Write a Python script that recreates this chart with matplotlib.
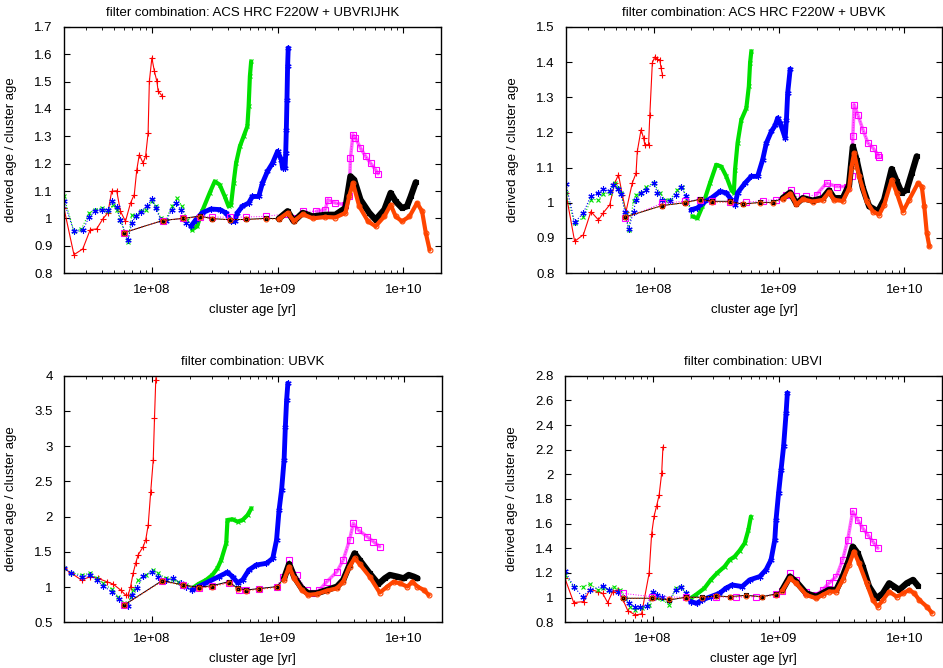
import numpy as np
import matplotlib
matplotlib.use("Agg")
import matplotlib.pyplot as plt
from matplotlib.ticker import LogLocator, NullFormatter, FixedLocator, FuncFormatter

plt.rcParams['font.family'] = ['Liberation Sans', 'DejaVu Sans']
plt.rcParams['font.size'] = 9.5

# ---- data: log10(cluster age) and derived/true age ratio ----
# panel 1: ACS HRC F220W + UBVRIJHK
p1_red_age = [7.30, 7.38, 7.45, 7.51, 7.56, 7.61, 7.65, 7.68, 7.72, 7.75, 7.79, 7.83, 7.86, 7.88, 7.90, 7.93, 7.95, 7.97, 7.98, 8.0, 8.02, 8.04, 8.05, 8.08]
p1_red = [1.038, 0.867, 0.888, 0.959, 0.961, 0.998, 1.02, 1.099, 1.101, 1.026, 0.989, 1.056, 1.087, 1.178, 1.233, 1.202, 1.227, 1.312, 1.501, 1.587, 1.538, 1.501, 1.465, 1.449]
p1_green_age = [7.30, 7.38, 7.44, 7.50, 7.55, 7.60, 7.65, 7.69, 7.72, 7.75, 7.81, 7.84, 7.87, 7.91, 7.95, 8.0, 8.03, 8.07, 8.11, 8.16, 8.20, 8.24, 8.28, 8.32, 8.36, 8.40, 8.46, 8.50, 8.54, 8.58, 8.61, 8.63, 8.65, 8.67, 8.70, 8.73, 8.76, 8.77, 8.78, 8.79]
p1_green = [1.08, 0.952, 0.961, 1.02, 1.032, 1.038, 1.026, 1.05, 1.032, 0.995, 0.912, 1.013, 1.007, 1.026, 1.032, 1.062, 1.044, 1.001, 0.995, 1.044, 1.074, 1.044, 0.995, 0.959, 0.971, 1.026, 1.093, 1.135, 1.123, 1.08, 1.044, 1.05, 1.129, 1.202, 1.263, 1.3, 1.337, 1.41, 1.52, 1.574]
p1_blue_age = [7.30, 7.38, 7.45, 7.50, 7.55, 7.60, 7.65, 7.68, 7.72, 7.75, 7.81, 7.84, 7.87, 7.91, 7.96, 8.0, 8.03, 8.07, 8.11, 8.16, 8.19, 8.23, 8.27, 8.31, 8.35, 8.40, 8.47, 8.54, 8.59, 8.63, 8.66, 8.68, 8.72, 8.77, 8.80, 8.85, 8.88, 8.92, 8.96, 9.00, 9.03, 9.04, 9.06, 9.065, 9.07, 9.075, 9.08, 9.085]
p1_blue = [1.062, 0.952, 0.956, 1.005, 1.026, 1.032, 1.029, 1.062, 1.041, 0.995, 0.92, 0.983, 1.007, 1.024, 1.044, 1.071, 1.038, 0.995, 0.989, 1.032, 1.056, 1.032, 0.983, 0.971, 0.995, 1.02, 1.034, 1.032, 1.02, 0.989, 0.989, 1.02, 1.044, 1.056, 1.08, 1.08, 1.129, 1.172, 1.202, 1.245, 1.215, 1.184, 1.184, 1.239, 1.324, 1.434, 1.556, 1.623]
p1_magenta_age = [7.78, 8.085, 8.25, 8.38, 8.48, 8.62, 8.75, 8.91, 9.07, 9.12, 9.20, 9.31, 9.38, 9.40, 9.46, 9.54, 9.57, 9.58, 9.60, 9.62, 9.66, 9.70, 9.74, 9.78, 9.80]
p1_magenta = [0.948, 0.992, 1.0, 1.006, 1.005, 1.004, 1.005, 1.007, 1.017, 1.002, 1.026, 1.026, 1.032, 1.068, 1.056, 1.05, 1.08, 1.22, 1.306, 1.294, 1.257, 1.227, 1.202, 1.178, 1.163]
p1_black_age = [7.78, 8.085, 8.25, 8.38, 8.48, 8.62, 8.75, 8.91, 9.01, 9.08, 9.13, 9.20, 9.28, 9.38, 9.46, 9.54, 9.58, 9.61, 9.66, 9.73, 9.78, 9.85, 9.90, 9.94, 9.99, 10.03, 10.06, 10.10]
p1_black = [0.948, 0.992, 1.0, 1.008, 0.999, 0.995, 0.996, 1.0, 0.999, 1.026, 0.989, 1.02, 1.007, 1.013, 1.013, 1.038, 1.154, 1.141, 1.068, 1.02, 0.995, 1.032, 1.093, 1.062, 1.038, 1.044, 1.08, 1.132]
p1_orange_age = [7.78, 8.085, 8.25, 8.38, 8.48, 8.62, 8.75, 8.91, 9.01, 9.08, 9.13, 9.20, 9.28, 9.38, 9.46, 9.54, 9.57, 9.60, 9.65, 9.72, 9.78, 9.85, 9.90, 9.94, 9.99, 10.05, 10.11, 10.15, 10.18, 10.21]
p1_orange = [0.948, 0.992, 1.0, 1.006, 0.999, 0.995, 0.996, 0.998, 0.997, 1.02, 0.99, 1.015, 1.0, 1.005, 1.003, 1.02, 1.08, 1.129, 1.044, 0.989, 0.971, 1.007, 1.05, 1.007, 0.989, 1.007, 1.056, 1.026, 0.946, 0.885]

# panel 2: ACS HRC F220W + UBVK
p2_red_age = [7.30, 7.37, 7.44, 7.50, 7.56, 7.60, 7.65, 7.69, 7.72, 7.75, 7.78, 7.83, 7.86, 7.87, 7.90, 7.92, 7.93, 7.96, 7.97, 7.99, 8.01, 8.03, 8.05, 8.06, 8.07]
p2_red = [1.028, 0.89, 0.909, 0.975, 0.951, 0.972, 0.994, 1.056, 1.08, 1.023, 0.975, 1.056, 1.084, 1.146, 1.208, 1.184, 1.165, 1.165, 1.25, 1.398, 1.415, 1.409, 1.405, 1.383, 1.364]
p2_green_age = [7.30, 7.37, 7.44, 7.50, 7.56, 7.60, 7.65, 7.69, 7.72, 7.74, 7.78, 7.80, 7.84, 7.86, 7.90, 7.94, 8.0, 8.05, 8.09, 8.13, 8.19, 8.23, 8.27, 8.31, 8.35, 8.39, 8.45, 8.50, 8.54, 8.58, 8.62, 8.64, 8.65, 8.67, 8.70, 8.74, 8.76, 8.77, 8.78]
p2_green = [1.028, 0.942, 0.958, 1.009, 1.009, 1.026, 1.028, 1.056, 1.042, 1.028, 0.971, 0.923, 1.004, 1.023, 1.028, 1.046, 1.056, 1.028, 1.009, 1.009, 1.037, 1.046, 1.004, 0.961, 0.956, 0.99, 1.056, 1.108, 1.103, 1.075, 1.037, 1.028, 1.094, 1.17, 1.236, 1.269, 1.331, 1.398, 1.431]
p2_blue_age = [7.30, 7.37, 7.44, 7.50, 7.56, 7.60, 7.65, 7.68, 7.72, 7.74, 7.77, 7.80, 7.84, 7.86, 7.90, 7.94, 8.0, 8.03, 8.07, 8.13, 8.18, 8.22, 8.26, 8.30, 8.35, 8.39, 8.46, 8.53, 8.58, 8.62, 8.65, 8.67, 8.73, 8.78, 8.83, 8.87, 8.90, 8.94, 8.97, 8.99, 9.01, 9.05, 9.06, 9.07, 9.09]
p2_blue = [1.053, 0.944, 0.971, 1.02, 1.028, 1.039, 1.032, 1.051, 1.039, 1.026, 0.975, 0.925, 0.975, 1.009, 1.028, 1.037, 1.056, 1.029, 1.009, 1.004, 1.023, 1.046, 1.018, 0.98, 0.985, 0.999, 1.013, 1.032, 1.028, 1.009, 0.994, 1.028, 1.056, 1.075, 1.075, 1.122, 1.17, 1.203, 1.22, 1.241, 1.227, 1.184, 1.236, 1.312, 1.38]
p2_magenta_age = [7.77, 8.07, 8.25, 8.37, 8.47, 8.61, 8.74, 8.87, 8.98, 9.06, 9.10, 9.14, 9.22, 9.30, 9.38, 9.46, 9.54, 9.58, 9.59, 9.60, 9.63, 9.67, 9.71, 9.75, 9.79, 9.80]
p2_magenta = [0.956, 0.999, 1.004, 1.009, 1.004, 1.001, 1.001, 1.006, 1.009, 1.023, 1.035, 1.018, 1.018, 1.023, 1.056, 1.046, 1.046, 1.075, 1.189, 1.279, 1.25, 1.208, 1.17, 1.156, 1.137, 1.129]
p2_black_age = [7.77, 8.07, 8.25, 8.37, 8.47, 8.61, 8.71, 8.85, 8.95, 9.03, 9.09, 9.14, 9.19, 9.27, 9.35, 9.40, 9.44, 9.51, 9.56, 9.59, 9.62, 9.67, 9.72, 9.79, 9.84, 9.90, 9.94, 9.98, 10.02, 10.06, 10.10]
p2_black = [0.959, 0.992, 1.0, 1.01, 1.004, 1.004, 0.996, 1.001, 1.001, 1.013, 1.029, 0.997, 1.013, 1.006, 1.013, 1.035, 1.013, 1.013, 1.051, 1.16, 1.122, 1.042, 0.99, 0.975, 1.009, 1.096, 1.061, 1.028, 1.037, 1.084, 1.132]
p2_orange_age = [7.77, 8.07, 8.25, 8.37, 8.47, 8.61, 8.71, 8.85, 8.95, 9.03, 9.09, 9.14, 9.19, 9.27, 9.35, 9.40, 9.44, 9.51, 9.56, 9.58, 9.60, 9.64, 9.70, 9.75, 9.80, 9.84, 9.90, 9.94, 9.99, 10.04, 10.11, 10.14, 10.16, 10.18, 10.20]
p2_orange = [0.959, 0.992, 1.0, 1.008, 1.002, 1.002, 0.995, 1.0, 0.999, 1.01, 1.026, 0.995, 1.01, 1.003, 1.008, 1.03, 1.008, 1.005, 1.04, 1.103, 1.141, 1.075, 1.004, 0.975, 0.966, 0.994, 1.065, 1.028, 0.975, 1.009, 1.056, 1.046, 0.99, 0.914, 0.876]

# panel 3: UBVK
p3_red_age = [7.30, 7.36, 7.44, 7.51, 7.57, 7.64, 7.69, 7.75, 7.79, 7.81, 7.83, 7.85, 7.87, 7.89, 7.93, 7.95, 7.97, 7.99, 8.01, 8.02, 8.03, 8.04]
p3_red = [1.266, 1.195, 1.1, 1.148, 1.124, 1.077, 1.044, 0.959, 0.888, 0.883, 1.006, 1.195, 1.337, 1.456, 1.574, 1.668, 1.881, 2.354, 2.804, 3.395, 3.939, 4.1]
p3_green_age = [7.30, 7.36, 7.44, 7.51, 7.56, 7.61, 7.68, 7.73, 7.78, 7.80, 7.83, 7.85, 7.89, 7.95, 8.01, 8.05, 8.11, 8.17, 8.21, 8.27, 8.32, 8.37, 8.43, 8.48, 8.52, 8.55, 8.59, 8.60, 8.64, 8.68, 8.72, 8.76, 8.79]
p3_green = [1.266, 1.205, 1.172, 1.195, 1.124, 1.053, 0.968, 0.864, 0.770, 0.746, 0.855, 0.959, 1.101, 1.172, 1.243, 1.195, 1.124, 1.110, 1.077, 1.030, 0.983, 1.044, 1.101, 1.172, 1.266, 1.385, 1.621, 1.952, 1.962, 1.929, 1.952, 2.023, 2.118]
p3_blue_age = [7.30, 7.36, 7.44, 7.51, 7.56, 7.61, 7.68, 7.74, 7.78, 7.81, 7.84, 7.88, 7.93, 8.0, 8.05, 8.11, 8.17, 8.23, 8.27, 8.32, 8.37, 8.45, 8.53, 8.60, 8.64, 8.68, 8.72, 8.77, 8.83, 8.91, 8.96, 8.99, 9.01, 9.03, 9.05, 9.06, 9.07, 9.08]
p3_blue = [1.266, 1.195, 1.148, 1.172, 1.101, 1.016, 0.935, 0.826, 0.746, 0.732, 0.888, 0.983, 1.158, 1.219, 1.148, 1.101, 1.124, 1.053, 1.006, 0.959, 1.006, 1.077, 1.148, 1.210, 1.148, 1.063, 1.101, 1.243, 1.314, 1.337, 1.408, 1.668, 2.094, 2.378, 2.804, 3.277, 3.655, 3.892]
p3_magenta_age = [7.78, 8.08, 8.25, 8.37, 8.48, 8.61, 8.69, 8.75, 8.85, 8.99, 9.04, 9.09, 9.15, 9.23, 9.28, 9.33, 9.39, 9.47, 9.52, 9.57, 9.60, 9.64, 9.71, 9.76, 9.81]
p3_magenta = [0.746, 1.091, 1.030, 0.983, 1.016, 1.063, 0.959, 0.959, 0.978, 1.006, 1.148, 1.385, 1.172, 0.959, 0.912, 0.959, 1.077, 1.219, 1.385, 1.668, 1.905, 1.810, 1.716, 1.645, 1.574]
p3_black_age = [7.78, 8.08, 8.25, 8.37, 8.48, 8.61, 8.68, 8.75, 8.85, 8.99, 9.05, 9.09, 9.13, 9.19, 9.24, 9.31, 9.39, 9.47, 9.52, 9.57, 9.61, 9.65, 9.73, 9.80, 9.85, 9.89, 9.95, 10.0, 10.04, 10.08, 10.11]
p3_black = [0.746, 1.091, 1.030, 0.997, 1.020, 1.077, 0.983, 0.959, 0.978, 1.006, 1.124, 1.328, 1.148, 0.983, 0.912, 0.912, 0.959, 1.006, 1.101, 1.314, 1.479, 1.385, 1.195, 1.044, 1.124, 1.172, 1.148, 1.124, 1.172, 1.148, 1.124]
p3_orange_age = [7.78, 8.08, 8.25, 8.37, 8.48, 8.61, 8.68, 8.75, 8.85, 8.99, 9.05, 9.09, 9.13, 9.19, 9.24, 9.31, 9.39, 9.47, 9.52, 9.57, 9.61, 9.65, 9.73, 9.81, 9.87, 9.92, 9.97, 10.03, 10.07, 10.11, 10.16, 10.20]
p3_orange = [0.746, 1.082, 1.025, 0.987, 1.006, 1.063, 0.968, 0.949, 0.968, 0.997, 1.101, 1.290, 1.124, 0.959, 0.888, 0.902, 0.949, 0.983, 1.077, 1.290, 1.408, 1.328, 1.148, 0.921, 1.006, 1.077, 1.053, 1.006, 1.077, 1.006, 0.959, 0.888]

# panel 4: UBVI
p4_red_age = [7.30, 7.37, 7.45, 7.50, 7.56, 7.60, 7.64, 7.68, 7.72, 7.76, 7.80, 7.86, 7.91, 7.97, 7.99, 8.01, 8.03, 8.05, 8.07, 8.08]
p4_red = [1.157, 0.96, 0.968, 1.068, 1.049, 1.035, 0.96, 1.049, 1.063, 0.987, 0.895, 0.86, 0.868, 1.198, 1.517, 1.663, 1.745, 1.834, 2.01, 2.221]
p4_green_age = [7.30, 7.37, 7.44, 7.50, 7.56, 7.60, 7.65, 7.69, 7.74, 7.78, 7.82, 7.86, 7.91, 7.97, 8.0, 8.03, 8.07, 8.13, 8.18, 8.22, 8.26, 8.30, 8.34, 8.41, 8.46, 8.51, 8.57, 8.61, 8.65, 8.69, 8.73, 8.76, 8.78]
p4_green = [1.184, 1.090, 1.090, 1.111, 1.063, 1.076, 1.063, 1.090, 1.063, 0.995, 0.927, 0.900, 0.914, 0.941, 1.041, 0.995, 0.987, 0.941, 1.076, 1.090, 1.041, 0.995, 1.022, 1.076, 1.144, 1.198, 1.252, 1.306, 1.333, 1.382, 1.441, 1.550, 1.658]
p4_blue_age = [7.30, 7.37, 7.44, 7.50, 7.60, 7.65, 7.72, 7.77, 7.81, 7.86, 7.90, 7.95, 8.0, 8.03, 8.07, 8.13, 8.18, 8.22, 8.26, 8.30, 8.35, 8.39, 8.46, 8.53, 8.58, 8.63, 8.71, 8.77, 8.85, 8.90, 8.94, 8.97, 8.98, 9.0, 9.02, 9.04, 9.06, 9.07]
p4_blue = [1.217, 1.090, 1.008, 1.063, 1.095, 1.063, 1.049, 0.995, 0.954, 0.922, 0.927, 0.933, 1.049, 1.022, 1.003, 0.981, 1.063, 1.090, 1.035, 0.968, 0.954, 0.981, 1.008, 1.035, 1.076, 1.103, 1.090, 1.144, 1.171, 1.225, 1.306, 1.468, 1.631, 1.847, 2.037, 2.226, 2.497, 2.659]
p4_magenta_age = [7.76, 7.99, 8.26, 8.50, 8.66, 8.82, 8.98, 9.03, 9.09, 9.14, 9.22, 9.30, 9.35, 9.40, 9.46, 9.51, 9.55, 9.59, 9.63, 9.67, 9.71, 9.75, 9.79]
p4_magenta = [1.035, 1.008, 1.003, 1.008, 1.003, 1.008, 1.027, 1.057, 1.198, 1.144, 1.049, 1.022, 1.063, 1.117, 1.171, 1.306, 1.468, 1.699, 1.631, 1.563, 1.509, 1.455, 1.401]
p4_black_age = [7.76, 7.99, 8.13, 8.26, 8.39, 8.50, 8.61, 8.74, 8.87, 8.98, 9.03, 9.09, 9.14, 9.22, 9.30, 9.35, 9.40, 9.46, 9.51, 9.56, 9.59, 9.63, 9.67, 9.72, 9.78, 9.83, 9.88, 9.92, 9.96, 10.02, 10.07, 10.11]
p4_black = [0.995, 0.995, 0.981, 1.003, 1.003, 1.014, 1.008, 1.019, 1.008, 1.030, 1.063, 1.171, 1.130, 1.035, 1.008, 1.035, 1.063, 1.063, 1.171, 1.306, 1.414, 1.360, 1.252, 1.090, 0.995, 1.035, 1.117, 1.090, 1.063, 1.117, 1.144, 1.095]
p4_orange_age = [7.76, 7.99, 8.13, 8.26, 8.39, 8.50, 8.61, 8.74, 8.87, 8.98, 9.03, 9.09, 9.14, 9.22, 9.30, 9.35, 9.40, 9.46, 9.51, 9.56, 9.60, 9.64, 9.70, 9.75, 9.79, 9.83, 9.88, 9.94, 9.99, 10.04, 10.08, 10.12, 10.18, 10.22]
p4_orange = [0.995, 0.995, 0.987, 1.000, 1.000, 1.011, 1.005, 1.016, 1.005, 1.024, 1.057, 1.157, 1.117, 1.022, 0.995, 1.022, 1.049, 1.049, 1.144, 1.266, 1.374, 1.279, 1.117, 0.981, 0.927, 0.981, 1.049, 1.008, 1.035, 1.063, 1.035, 0.981, 0.927, 0.878]

titles = ["filter combination: ACS HRC F220W + UBVRIJHK",
          "filter combination: ACS HRC F220W + UBVK",
          "filter combination: UBVK",
          "filter combination: UBVI"]
ylims = [(0.8, 1.7), (0.8, 1.5), (0.5, 4.0), (0.8, 2.8)]
ysteps = [0.1, 0.1, 0.5, 0.2]

RED = '#ff0000'
GREEN = '#00e000'
BLUE = '#0000ff'
MAGENTA = '#ff00ff'
BLACK = '#000000'
ORANGE = '#ff4500'
ASTER = (6, 2, 0)

panels = [
    (p1_red_age, p1_red, p1_green_age, p1_green, p1_blue_age, p1_blue, p1_magenta_age, p1_magenta, p1_black_age, p1_black, p1_orange_age, p1_orange),
    (p2_red_age, p2_red, p2_green_age, p2_green, p2_blue_age, p2_blue, p2_magenta_age, p2_magenta, p2_black_age, p2_black, p2_orange_age, p2_orange),
    (p3_red_age, p3_red, p3_green_age, p3_green, p3_blue_age, p3_blue, p3_magenta_age, p3_magenta, p3_black_age, p3_black, p3_orange_age, p3_orange),
    (p4_red_age, p4_red, p4_green_age, p4_green, p4_blue_age, p4_blue, p4_magenta_age, p4_magenta, p4_black_age, p4_black, p4_orange_age, p4_orange),
]

# axes boxes in figure fractions (left, bottom, width, height)
boxes = [(0.0679, 0.5913, 0.3998, 0.3683),
         (0.6002, 0.5913, 0.3987, 0.3683),
         (0.0679, 0.0684, 0.4003, 0.3692),
         (0.5992, 0.0684, 0.3998, 0.3692)]


def draw(ax, la, v, color, marker, ms, ls, lw, dense_from=None, dense_lw=0, mfc=None, dense_alpha=1.0):
    la = np.array(la)
    v = np.array(v)
    age = 10 ** la
    if dense_from is not None:
        m = la >= dense_from
        ax.plot(age[m], v[m], color=color, lw=dense_lw, alpha=dense_alpha,
                solid_capstyle='round', zorder=2)
    ax.plot(age, v, color=color, ls=ls, lw=lw, marker=marker, ms=ms,
            mfc=color if mfc is None else mfc, mec=color, mew=0.8, zorder=2)


fig = plt.figure(figsize=(9.43, 6.68), dpi=100)
for i, d in enumerate(panels):
    ax = fig.add_axes(boxes[i])
    draw(ax, d[0], d[1], RED, '+', 5, '-', 0.8)
    draw(ax, d[2], d[3], GREEN, 'x', 3.5, ':', 0.8, dense_from=8.3, dense_lw=3)
    draw(ax, d[4], d[5], BLUE, ASTER, 4.5, ':', 0.8, dense_from=8.3, dense_lw=3.5)
    draw(ax, d[6], d[7], MAGENTA, 's', 4, ':', 0.7, dense_from=9.3, dense_lw=2.5, mfc='none', dense_alpha=0.6)
    draw(ax, d[8], d[9], BLACK, 's', 3.5, '-', 0.7, dense_from=9.0, dense_lw=4.5)
    draw(ax, d[10], d[11], ORANGE, 'o', 3.5, ':', 0.8, dense_from=9.0, dense_lw=3, mfc='none')

    ax.set_xscale('log')
    ax.set_xlim(2e7, 2e10)
    lo, hi = ylims[i]
    ax.set_ylim(lo, hi)
    ticks = np.arange(lo, hi + ysteps[i] / 2, ysteps[i])
    ax.yaxis.set_major_locator(FixedLocator(ticks))
    ax.yaxis.set_major_formatter(FuncFormatter(lambda y, p: ('%.1f' % y).rstrip('0').rstrip('.')))
    ax.xaxis.set_major_locator(FixedLocator([1e8, 1e9, 1e10]))
    ax.xaxis.set_major_formatter(FuncFormatter(lambda x, p: '1e+%02d' % int(round(np.log10(x)))))
    ax.xaxis.set_minor_locator(LogLocator(base=10, subs=np.arange(2, 10), numticks=20))
    ax.xaxis.set_minor_formatter(NullFormatter())
    ax.tick_params(which='both', direction='in', top=True, right=True)
    ax.tick_params(which='major', length=4, width=0.8, pad=8)
    ax.tick_params(which='minor', length=2, width=0.6)
    for s in ax.spines.values():
        s.set_linewidth(1.0)

    ax.set_title(titles[i], pad=8, fontsize=9.5)
    ax.set_xlabel('cluster age [yr]')
    ax.set_ylabel('derived age / cluster age')
    ax.xaxis.set_label_coords(0.5, -0.125)
    ax.yaxis.set_label_coords(-0.125, 0.5)

fig.savefig('out.png', dpi=100)
